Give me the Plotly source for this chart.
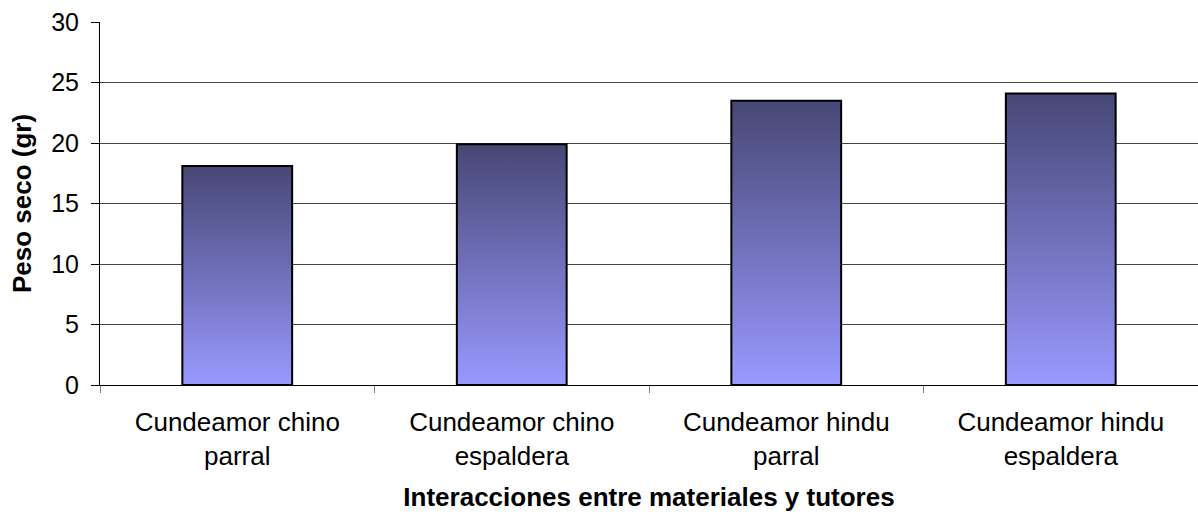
import plotly.graph_objects as go

# Dry weight per material/trellis combination
categories = [
    "Cundeamor chino<br>parral",
    "Cundeamor chino<br>espaldera",
    "Cundeamor hindu<br>parral",
    "Cundeamor hindu<br>espaldera",
]
peso_seco = [18.1, 19.9, 23.5, 24.1]

y_ticks = [0, 5, 10, 15, 20, 25, 30]
grid_vals = [5, 10, 15, 20, 25]

BAR_WIDTH = 0.4
FONT = "Arial, Liberation Sans, sans-serif"
gradient = [[0.0, "#9999ff"], [0.5, "#7070bb"], [1.0, "#474775"]]

fig = go.Figure()

# Gradient-filled bar bodies on a hidden numeric axis (index positions)
for i, v in enumerate(peso_seco):
    x0, x1 = i - BAR_WIDTH / 2, i + BAR_WIDTH / 2
    fig.add_trace(go.Scatter(
        x=[x0, x1, x1, x0, x0],
        y=[0, 0, v, v, 0],
        mode="lines",
        fill="toself",
        fillgradient=dict(type="vertical", colorscale=gradient),
        line=dict(width=0, color="rgba(0,0,0,0)"),
        hoverinfo="skip",
        showlegend=False,
        xaxis="x",
        yaxis="y",
    ))

# Bar outlines on the category axis
fig.add_trace(go.Bar(
    x=categories,
    y=peso_seco,
    width=BAR_WIDTH,
    marker=dict(color="rgba(0,0,0,0)", line=dict(color="#000000", width=2)),
    showlegend=False,
    xaxis="x2",
    yaxis="y",
))

fig.update_layout(
    width=1198,
    height=516,
    margin=dict(l=100, r=0, t=22, b=131),
    paper_bgcolor="white",
    plot_bgcolor="white",
    font=dict(family=FONT, size=25, color="#000000"),
    xaxis=dict(
        range=[-0.5, 3.5],
        visible=False,
        fixedrange=True,
    ),
    xaxis2=dict(
        type="category",
        overlaying="x",
        anchor="y",
        side="bottom",
        range=[-0.5, 3.5],
        showline=True,
        linecolor="#000000",
        linewidth=1,
        ticks="outside",
        tickson="boundaries",
        ticklen=7,
        tickcolor="#808080",
        tickwidth=1,
        ticklabelstandoff=14,
        showgrid=False,
        tickfont=dict(family=FONT, size=26),
        title=dict(
            text="<b>Interacciones entre materiales y tutores</b>",
            font=dict(family=FONT, size=26),
            standoff=17,
        ),
    ),
    yaxis=dict(
        range=[0, 30],
        tickmode="array",
        tickvals=y_ticks,
        showline=True,
        linecolor="#000000",
        linewidth=1,
        ticks="outside",
        ticklen=8,
        tickcolor="#000000",
        ticklabelstandoff=7,
        showgrid=False,
        zeroline=False,
        tickfont=dict(family=FONT, size=25),
        minor=dict(
            tickmode="array",
            tickvals=grid_vals,
            showgrid=True,
            gridcolor="#444444",
            gridwidth=1,
            ticks="",
        ),
        title=dict(
            text="<b>Peso seco (gr)</b>",
            font=dict(family=FONT, size=26),
            standoff=12,
        ),
    ),
)

fig.write_html("out.html")
